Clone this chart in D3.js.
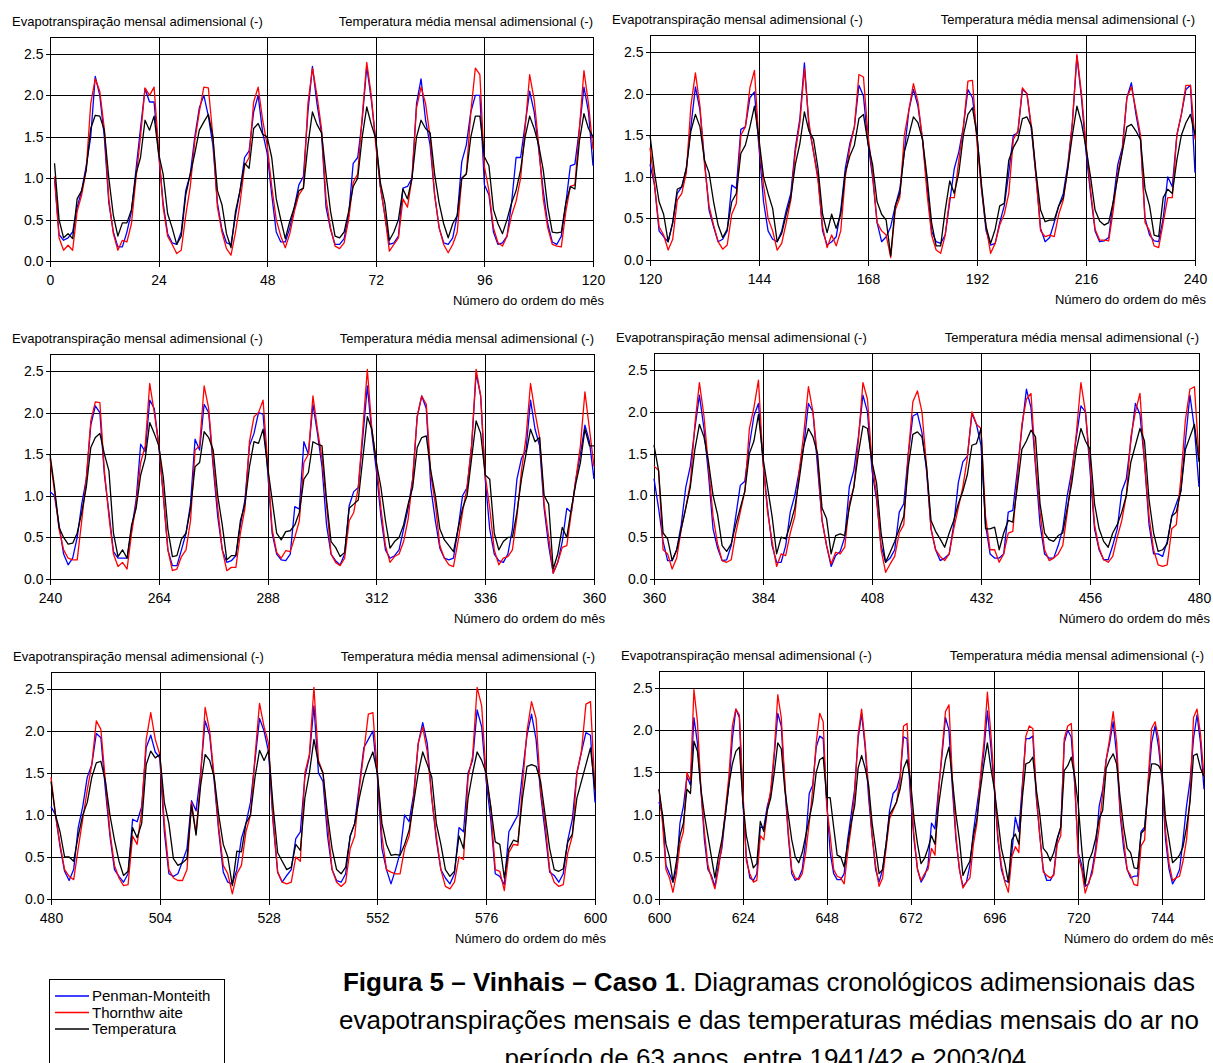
<!DOCTYPE html>
<meta charset="UTF-8">
<style>
    body { margin: 0; background: #fff; }
    svg { display: block; font-family: "Liberation Sans", Arial, sans-serif; }
    .grid line { stroke: #000; stroke-width: 1px; shape-rendering: crispEdges; }
    .frame { fill: none; stroke: #000; stroke-width: 1px; shape-rendering: crispEdges; }
    .axis path { display: none; }
    .axis line { stroke: #000; shape-rendering: crispEdges; }
    .axis text { font-size: 14px; fill: #000; }
    .series { fill: none; stroke-width: 1.3px; stroke-linejoin: round; }
    .ptitle, .xname { font-size: 13px; fill: #000; }
    .legend text { font-size: 15px; fill: #000; }
    .caption { font-size: 26px; fill: #000; }
</style>
<body>
<div id="chart"></div>
<script src="https://d3js.org/d3.v7.min.js"></script>
<script>
    // adimensional monthly values, month 1..756 (one row = one hydrological year, Oct..Sep)
    var penmanMonteith = [
        1.0,0.32,0.25,0.28,0.35,0.65,0.85,1.15,1.5,2.23,2.0,1.5,
        0.7,0.35,0.17,0.17,0.35,0.6,1.1,1.6,2.08,1.92,1.92,1.3,
        0.7,0.33,0.22,0.2,0.35,0.85,1.05,1.5,1.85,2.0,1.75,1.4,
        0.7,0.38,0.22,0.2,0.55,0.85,1.25,1.33,1.8,2.0,1.55,1.3,
        0.8,0.35,0.23,0.23,0.4,0.65,0.92,1.02,1.8,2.35,1.9,1.55,
        0.65,0.38,0.2,0.2,0.27,0.55,1.18,1.25,1.7,2.35,1.95,1.45,
        0.9,0.55,0.2,0.22,0.3,0.88,0.9,1.0,1.9,2.2,1.7,1.4,
        0.8,0.4,0.22,0.2,0.28,0.55,1.2,1.4,1.8,2.0,2.0,0.92,
        0.8,0.35,0.2,0.22,0.3,0.7,1.25,1.25,1.65,2.05,1.8,1.35,
        0.85,0.45,0.23,0.2,0.3,0.7,1.15,1.17,1.6,2.1,1.8,1.15,
        0.9,0.35,0.28,0.22,0.45,0.8,0.88,1.1,1.6,2.08,1.8,1.2,
        0.6,0.4,0.22,0.25,0.35,0.9,0.86,1.57,1.6,1.95,2.02,1.35,
        0.7,0.35,0.25,0.22,0.35,0.6,0.8,1.35,1.7,2.37,1.6,1.3,
        1.0,0.35,0.18,0.22,0.28,0.6,1.1,1.4,1.6,2.1,1.97,1.4,
        1.0,0.45,0.22,0.28,0.4,0.65,0.85,1.3,1.8,2.05,1.85,1.45,
        0.9,0.35,0.22,0.2,0.3,0.7,1.1,1.3,1.6,2.05,1.95,1.5,
        0.85,0.35,0.18,0.2,0.45,0.65,1.05,1.5,1.53,2.05,2.0,1.55,
        1.0,0.38,0.22,0.27,0.45,0.65,0.8,1.15,1.65,2.45,1.95,1.3,
        0.8,0.35,0.22,0.23,0.27,0.7,1.15,1.35,1.95,2.13,1.75,1.45,
        0.5,0.3,0.23,0.22,0.5,1.0,0.88,1.5,1.75,2.05,2.1,1.05,
        1.0,0.65,0.3,0.17,0.25,0.5,0.9,1.2,1.85,2.08,2.0,1.25,
        0.8,0.33,0.25,0.25,0.25,0.6,0.95,1.62,1.53,2.15,2.05,1.6,
        1.0,0.35,0.16,0.16,0.35,0.55,0.9,1.68,1.55,2.1,2.0,1.35,
        0.75,0.35,0.2,0.22,0.28,0.65,0.95,1.6,1.75,2.0,1.98,1.3,
        0.55,0.3,0.23,0.22,0.3,0.87,0.84,1.65,1.5,2.1,1.75,1.35,
        0.65,0.3,0.22,0.17,0.3,0.88,1.05,1.1,1.7,2.32,1.75,1.3,
        0.75,0.35,0.25,0.28,0.35,0.6,0.85,1.2,1.95,2.2,2.05,1.1,
        0.7,0.37,0.25,0.23,0.25,0.6,1.0,1.1,1.6,2.47,2.2,1.2,
        0.6,0.3,0.22,0.2,0.3,0.6,1.2,1.45,1.55,2.15,1.8,1.6,
        0.85,0.4,0.07,0.2,0.45,0.85,0.8,1.2,1.5,1.85,1.65,1.2,
        0.85,0.45,0.22,0.22,0.35,0.65,1.1,1.35,1.8,2.2,1.8,1.25,
        0.6,0.37,0.22,0.23,0.4,0.75,1.12,1.17,1.6,1.95,2.1,1.4,
        0.85,0.4,0.2,0.2,0.4,0.8,1.0,1.3,1.6,2.1,2.0,1.35,
        0.7,0.4,0.15,0.28,0.33,0.5,1.1,1.3,1.7,2.2,2.0,1.3,
        0.95,0.4,0.2,0.25,0.35,0.8,0.9,1.5,1.95,1.98,1.75,1.3,
        0.6,0.35,0.22,0.25,0.3,0.65,1.15,1.4,1.47,1.98,1.85,1.6,
        0.65,0.3,0.25,0.25,0.3,0.8,0.82,1.3,1.8,2.27,2.05,1.35,
        0.65,0.3,0.25,0.25,0.4,0.6,1.0,1.3,1.7,2.07,2.0,1.3,
        0.6,0.35,0.23,0.23,0.4,0.6,1.05,1.2,1.65,2.1,1.97,1.4,
        0.65,0.3,0.3,0.27,0.45,0.75,0.9,1.05,1.65,2.2,1.8,1.1,
        1.0,0.62,0.33,0.22,0.35,0.85,1.1,1.45,1.6,1.97,1.92,1.3,
        0.75,0.35,0.27,0.2,0.3,0.95,0.92,1.1,1.8,1.95,1.75,1.68,
        0.8,0.3,0.27,0.3,0.45,0.6,1.17,1.05,1.5,2.12,1.95,1.4,
        0.8,0.32,0.2,0.18,0.35,0.72,0.9,1.15,1.65,2.15,2.0,1.75,
        0.9,0.32,0.2,0.28,0.35,0.72,0.8,1.45,1.7,2.3,1.5,1.4,
        0.75,0.35,0.22,0.2,0.3,0.75,0.9,1.35,1.8,1.9,2.0,1.45,
        0.6,0.35,0.18,0.35,0.55,1.0,0.92,1.25,1.85,2.1,1.85,1.2,
        0.7,0.35,0.25,0.18,0.3,0.85,0.8,1.5,1.65,2.25,2.05,1.4,
        0.95,0.3,0.27,0.17,0.8,0.9,1.0,1.5,1.95,2.2,1.9,1.25,
        0.8,0.32,0.28,0.2,0.3,0.7,0.95,1.5,1.75,1.98,1.95,1.15,
        1.0,0.4,0.3,0.2,0.35,0.9,1.1,1.45,1.35,2.15,1.85,1.3,
        0.7,0.35,0.28,0.15,0.4,0.6,1.0,1.35,1.9,2.25,2.15,1.15,
        0.5,0.25,0.22,0.3,0.85,0.85,1.1,1.25,1.7,2.2,2.05,1.35,
        0.75,0.3,0.22,0.25,0.35,0.7,1.25,1.35,1.8,1.93,1.9,1.15,
        0.55,0.3,0.23,0.23,0.3,0.7,1.0,1.3,1.9,2.2,1.8,1.2,
        0.75,0.35,0.2,0.35,0.65,1.05,1.25,1.3,1.45,1.92,1.9,1.2,
        0.7,0.35,0.2,0.27,0.4,0.9,0.83,1.3,1.7,2.15,2.0,1.3,
        0.7,0.35,0.15,0.2,0.4,0.8,1.1,1.4,1.75,2.23,1.8,1.3,
        0.7,0.35,0.22,0.2,0.55,0.97,0.8,1.35,1.9,1.9,1.93,1.2,
        0.75,0.35,0.22,0.22,0.3,0.7,0.85,1.85,2.0,1.92,1.35,0.55,
        0.4,0.15,0.18,0.35,0.6,1.1,1.3,1.65,1.85,2.1,1.7,1.0,
        0.6,0.35,0.25,0.27,0.27,0.8,0.85,1.35,1.85,2.05,1.8,1.4,
        0.7,0.35,0.18,0.25,0.35,0.7,1.1,1.4,1.9,2.18,1.85,1.3
    ];

    var thornthwaite = [
        1.02,0.28,0.13,0.19,0.13,0.6,0.8,1.1,1.9,2.2,2.05,1.6,
        0.75,0.33,0.13,0.25,0.23,0.45,1.0,1.5,2.09,2.0,2.1,1.35,
        0.65,0.3,0.2,0.09,0.13,0.55,0.9,1.45,1.8,2.1,2.09,1.5,
        0.65,0.35,0.15,0.07,0.35,0.7,1.15,1.25,1.92,2.1,1.7,1.4,
        0.9,0.5,0.3,0.16,0.33,0.6,0.8,0.88,1.9,2.33,2.0,1.6,
        0.75,0.4,0.18,0.15,0.22,0.5,0.95,1.05,1.75,2.4,2.0,1.4,
        0.9,0.55,0.12,0.2,0.28,0.75,0.65,1.0,1.85,2.1,1.9,1.5,
        0.8,0.4,0.2,0.1,0.2,0.35,1.0,1.05,1.8,2.33,2.25,1.14,
        0.85,0.4,0.22,0.18,0.3,0.55,0.72,1.0,1.6,2.25,1.95,1.4,
        0.75,0.4,0.2,0.18,0.17,0.6,0.9,0.92,1.6,2.3,1.9,1.35,
        0.9,0.4,0.3,0.12,0.25,0.72,0.8,1.05,1.85,2.25,1.85,1.15,
        0.65,0.42,0.22,0.13,0.18,0.55,0.68,1.5,1.6,2.07,2.28,1.4,
        0.9,0.5,0.35,0.12,0.2,0.45,0.72,1.3,1.65,2.3,1.65,1.3,
        0.95,0.4,0.15,0.3,0.17,0.35,1.0,1.35,1.6,2.23,2.2,1.5,
        1.05,0.45,0.35,0.3,0.03,0.6,0.75,1.5,1.8,2.12,1.9,1.45,
        0.8,0.3,0.12,0.08,0.3,0.75,0.75,1.2,1.6,2.15,2.16,1.4,
        0.85,0.4,0.08,0.2,0.42,0.55,0.8,1.45,1.55,2.07,2.0,1.6,
        1.0,0.35,0.28,0.3,0.28,0.55,0.72,1.1,1.65,2.47,2.0,1.4,
        0.85,0.37,0.24,0.24,0.23,0.6,1.05,1.32,1.95,2.08,1.8,1.5,
        0.45,0.35,0.17,0.15,0.45,0.75,0.75,1.5,1.75,2.1,2.1,1.45,
        1.05,0.6,0.35,0.25,0.23,0.23,0.7,1.2,1.9,2.13,2.12,1.3,
        0.75,0.3,0.15,0.2,0.12,0.55,0.9,1.4,1.6,2.35,2.0,1.62,
        1.0,0.35,0.1,0.12,0.27,0.35,0.7,1.55,1.6,2.32,2.05,1.4,
        0.85,0.35,0.1,0.14,0.14,0.55,0.85,1.65,1.95,2.0,2.15,1.4,
        0.6,0.32,0.25,0.34,0.33,0.5,0.7,1.4,1.5,2.2,1.8,1.45,
        0.9,0.3,0.2,0.16,0.25,0.7,0.8,1.1,1.8,2.52,1.8,1.4,
        0.85,0.4,0.2,0.27,0.3,0.45,0.72,1.2,1.95,2.2,2.1,1.25,
        0.9,0.4,0.25,0.17,0.15,0.45,0.8,1.1,1.6,2.52,2.2,1.25,
        0.85,0.35,0.17,0.25,0.27,0.35,0.75,1.3,1.7,2.35,2.0,1.7,
        0.9,0.5,0.07,0.2,0.38,0.4,0.8,1.2,1.6,2.25,1.8,1.35,
        1.3,0.35,0.3,0.12,0.25,0.6,0.85,1.15,1.85,2.35,1.95,1.35,
        0.75,0.42,0.22,0.2,0.23,0.55,0.8,1.05,1.8,2.05,2.38,1.4,
        0.8,0.45,0.15,0.3,0.28,0.55,0.75,1.3,1.75,2.3,2.0,1.45,
        0.7,0.4,0.18,0.32,0.3,0.38,0.9,1.1,1.65,2.35,2.15,1.4,
        1.0,0.35,0.08,0.18,0.27,0.55,0.65,1.5,2.12,2.25,2.0,1.35,
        0.6,0.35,0.27,0.22,0.3,0.6,0.85,1.1,1.45,2.0,1.85,1.8,
        0.75,0.35,0.35,0.2,0.3,0.55,0.57,1.2,1.85,2.15,2.22,1.4,
        0.8,0.35,0.22,0.25,0.3,0.4,0.8,1.25,1.75,2.35,2.0,1.4,
        0.65,0.37,0.23,0.2,0.27,0.5,0.7,1.0,1.7,2.0,2.22,1.4,
        0.75,0.35,0.17,0.15,0.17,0.6,0.65,1.2,1.9,2.27,2.3,1.45,
        1.0,0.65,0.35,0.27,0.23,0.6,0.95,1.3,1.6,2.12,2.02,1.4,
        0.8,0.4,0.25,0.16,0.17,0.75,0.65,1.05,1.9,2.22,1.9,1.72,
        0.9,0.35,0.25,0.22,0.22,0.35,1.15,0.78,1.45,2.28,2.0,1.45,
        0.85,0.4,0.3,0.06,0.3,0.4,0.8,1.0,1.7,2.33,2.05,1.85,
        0.95,0.32,0.2,0.18,0.2,0.5,0.45,1.5,1.72,2.52,1.65,1.5,
        0.9,0.35,0.2,0.15,0.2,0.6,0.75,1.3,1.75,2.2,2.22,1.5,
        0.75,0.35,0.32,0.3,0.3,0.6,0.75,1.2,1.85,2.05,1.75,1.2,
        0.75,0.35,0.15,0.12,0.2,0.5,0.47,1.45,1.7,2.52,2.3,1.45,
        1.1,0.35,0.33,0.1,0.55,0.65,0.64,1.35,2.0,2.35,2.15,1.3,
        0.9,0.35,0.2,0.15,0.17,0.55,0.75,1.5,1.75,2.32,2.35,1.3,
        0.9,0.35,0.25,0.08,0.3,0.65,0.8,1.5,1.4,2.48,2.1,1.3,
        0.8,0.4,0.25,0.12,0.35,0.65,1.05,1.45,2.05,2.25,2.18,1.3,
        0.45,0.3,0.2,0.22,0.75,0.7,1.05,1.3,1.75,2.42,2.15,1.4,
        0.8,0.35,0.25,0.23,0.3,0.55,0.9,1.3,1.85,2.2,2.1,1.1,
        0.75,0.35,0.27,0.25,0.18,0.55,0.85,1.25,1.95,2.25,1.85,1.3,
        0.75,0.4,0.15,0.25,0.6,0.95,1.05,1.15,1.4,2.05,2.08,1.3,
        0.75,0.35,0.22,0.3,0.35,0.6,0.52,1.25,1.75,2.22,2.3,1.4,
        0.75,0.35,0.13,0.2,0.25,0.65,0.9,1.45,1.85,2.45,1.95,1.35,
        0.75,0.4,0.2,0.08,0.5,0.62,0.55,1.3,1.93,2.05,2.02,1.25,
        0.75,0.32,0.28,0.25,0.28,0.65,0.75,1.9,2.05,2.08,1.4,0.5,
        0.35,0.07,0.2,0.3,0.55,0.85,1.25,1.65,1.9,2.22,1.85,1.05,
        0.7,0.35,0.28,0.17,0.16,0.63,0.7,1.4,2.02,2.1,1.9,1.45,
        0.8,0.42,0.22,0.25,0.27,0.45,0.7,1.2,2.15,2.25,1.95,1.45
    ];

    var temperatura = [
        1.18,0.5,0.28,0.33,0.27,0.75,0.85,1.1,1.6,1.76,1.75,1.58,
        1.0,0.55,0.3,0.46,0.46,0.62,1.05,1.25,1.7,1.58,1.75,1.3,
        1.05,0.57,0.4,0.2,0.3,0.8,1.05,1.3,1.58,1.68,1.77,1.5,
        0.85,0.68,0.33,0.16,0.6,0.85,1.18,1.12,1.6,1.66,1.53,1.5,
        1.25,0.75,0.5,0.27,0.48,0.65,0.85,0.88,1.4,1.8,1.65,1.55,
        1.05,0.6,0.3,0.28,0.35,0.6,0.9,1.0,1.5,1.86,1.65,1.48,
        0.95,0.7,0.25,0.35,0.5,0.87,0.75,1.0,1.5,1.7,1.6,1.55,
        1.05,0.7,0.45,0.28,0.45,0.55,1.0,1.05,1.5,1.75,1.75,1.26,
        1.15,0.62,0.45,0.33,0.5,0.7,0.85,1.1,1.5,1.75,1.6,1.4,
        1.1,0.65,0.35,0.34,0.35,0.7,0.9,0.87,1.45,1.78,1.6,1.5,
        1.05,0.7,0.55,0.22,0.45,0.85,0.88,1.1,1.55,1.75,1.6,1.2,
        1.05,0.7,0.42,0.27,0.37,0.7,0.8,1.28,1.38,1.6,1.85,1.45,
        1.0,0.8,0.62,0.22,0.32,0.55,0.75,1.15,1.4,1.78,1.55,1.45,
        1.1,0.55,0.33,0.55,0.38,0.55,1.05,1.25,1.38,1.7,1.75,1.4,
        1.15,0.7,0.55,0.48,0.05,0.65,0.8,1.3,1.5,1.72,1.65,1.45,
        1.0,0.45,0.17,0.17,0.6,0.95,0.8,1.05,1.5,1.75,1.83,1.5,
        0.9,0.4,0.2,0.37,0.65,0.68,1.2,1.35,1.45,1.7,1.72,1.6,
        1.05,0.6,0.46,0.48,0.48,0.65,0.75,1.1,1.5,1.85,1.65,1.35,
        1.0,0.6,0.47,0.42,0.45,0.7,1.0,1.3,1.6,1.63,1.55,1.45,
        0.85,0.65,0.3,0.28,0.75,0.85,0.8,1.2,1.5,1.65,1.75,1.5,
        1.1,0.62,0.5,0.42,0.43,0.55,0.8,1.1,1.58,1.7,1.75,1.5,
        1.3,0.55,0.27,0.35,0.25,0.65,0.85,1.25,1.45,1.88,1.75,1.6,
        1.22,0.6,0.27,0.28,0.48,0.55,0.85,1.35,1.4,1.77,1.7,1.55,
        1.0,0.65,0.23,0.28,0.28,0.7,0.9,1.35,1.65,1.63,1.8,1.35,
        0.95,0.55,0.47,0.57,0.58,0.65,0.8,1.2,1.28,1.65,1.62,1.6,
        0.95,0.45,0.38,0.27,0.32,0.85,0.9,0.95,1.45,1.95,1.8,1.4,
        1.1,0.7,0.37,0.45,0.5,0.65,0.9,1.1,1.58,1.7,1.72,1.3,
        1.0,0.6,0.47,0.4,0.33,0.6,0.85,1.0,1.45,1.9,1.75,1.25,
        1.2,0.55,0.35,0.45,0.5,0.5,0.8,1.2,1.5,1.8,1.65,1.7,
        1.0,0.9,0.12,0.3,0.62,0.5,0.85,1.15,1.4,1.8,1.6,1.6,
        1.3,0.55,0.48,0.22,0.35,0.6,0.85,1.1,1.55,1.85,1.7,1.4,
        1.0,0.77,0.4,0.33,0.42,0.65,0.85,1.05,1.5,1.65,1.97,1.45,
        1.1,0.75,0.3,0.5,0.48,0.65,0.85,1.2,1.6,1.8,1.7,1.5,
        0.85,0.72,0.3,0.52,0.54,0.52,0.85,1.1,1.5,1.83,1.8,1.4,
        1.15,0.55,0.2,0.32,0.45,0.6,0.75,1.35,1.73,1.76,1.7,1.35,
        0.7,0.57,0.48,0.38,0.55,0.7,0.9,1.05,1.25,1.6,1.62,1.8,
        0.6,0.6,0.62,0.35,0.55,0.7,0.68,1.1,1.55,1.65,1.78,1.7,
        0.9,0.55,0.47,0.45,0.52,0.55,0.85,1.15,1.55,1.8,1.65,1.55,
        0.9,0.6,0.45,0.38,0.55,0.65,0.8,1.0,1.4,1.6,1.8,1.65,
        0.95,0.55,0.33,0.35,0.42,0.75,0.8,1.05,1.55,1.7,1.85,1.4,
        1.0,0.8,0.5,0.5,0.45,0.75,1.0,1.15,1.45,1.62,1.64,1.4,
        1.0,0.7,0.45,0.28,0.33,0.85,0.73,0.9,1.6,1.76,1.68,1.72,
        1.15,0.9,0.48,0.4,0.43,0.48,1.12,0.76,1.35,1.72,1.65,1.45,
        1.0,0.65,0.5,0.16,0.57,0.56,0.9,1.0,1.45,1.77,1.65,1.77,
        1.1,0.55,0.45,0.35,0.38,0.65,0.58,1.2,1.5,1.9,1.62,1.5,
        1.0,0.6,0.35,0.3,0.38,0.75,0.9,1.2,1.45,1.62,1.75,1.5,
        0.9,0.65,0.52,0.53,0.52,0.65,0.82,1.15,1.5,1.75,1.6,1.45,
        0.9,0.65,0.35,0.27,0.33,0.75,0.6,1.2,1.5,1.75,1.65,1.5,
        1.1,0.68,0.65,0.25,0.6,0.7,0.68,1.2,1.58,1.6,1.58,1.4,
        1.0,0.6,0.35,0.33,0.36,0.68,0.77,1.2,1.4,1.6,1.8,1.3,
        1.0,0.65,0.5,0.2,0.45,0.75,0.9,1.3,1.25,1.87,1.75,1.3,
        1.0,0.75,0.5,0.25,0.5,0.7,1.0,1.35,1.6,1.75,1.8,1.15,
        0.75,0.55,0.37,0.42,0.92,0.8,1.05,1.2,1.5,1.85,1.78,1.3,
        1.0,0.7,0.5,0.43,0.55,0.75,0.95,1.15,1.5,1.65,1.68,1.2,
        1.2,0.85,0.52,0.5,0.38,0.65,0.9,1.1,1.55,1.7,1.55,1.35,
        0.9,0.6,0.3,0.35,0.65,1.0,1.07,1.15,1.3,1.55,1.65,1.4,
        0.95,0.65,0.42,0.48,0.6,0.75,0.65,1.1,1.4,1.65,1.8,1.4,
        1.0,0.7,0.28,0.37,0.45,0.75,0.95,1.3,1.6,1.85,1.55,1.3,
        0.95,0.6,0.42,0.2,0.7,0.77,0.65,1.2,1.6,1.62,1.68,1.3,
        1.0,0.6,0.55,0.45,0.55,0.72,0.85,1.52,1.58,1.68,1.45,1.12,
        0.6,0.17,0.45,0.55,0.72,0.95,1.05,1.55,1.65,1.72,1.6,1.2,
        0.85,0.6,0.55,0.37,0.36,0.78,0.82,1.3,1.6,1.6,1.58,1.5,
        0.95,0.7,0.43,0.47,0.52,0.62,0.85,1.15,1.7,1.72,1.55,1.45
    ];

    var seriesNames = ["Penman-Monteith", "Thornthw aite", "Temperatura"];
    var seriesColors = ["#0000ff", "#ff0000", "#000000"];
    var panelStarts = [0, 120, 240, 360, 480, 600];
    var panelEnds = [120, 240, 360, 480, 600, 756];
    var yTicks = [0, 0.5, 1.0, 1.5, 2.0, 2.5];
    var leftTitle = "Evapotranspiração mensal adimensional (-)";
    var rightTitle = "Temperatura média mensal adimensional (-)";
    var xName = "Número do ordem do mês";
    var captionBold = "Figura 5 – Vinhais – Caso 1";
    var captionLines = [
        ". Diagramas cronológicos adimensionais das",
        "evapotranspirações mensais e das temperaturas médias mensais do ar no",
        "período de 63 anos, entre 1941/42 e 2003/04."
    ];

    // plot boxes, in page pixels: left, right, y of 0.0, y of 2.5
    var boxes = [
        {x0: 50, x1: 593, y0: 261, y25: 54},
        {x0: 650, x1: 1195, y0: 260, y25: 52},
        {x0: 50, x1: 594, y0: 579, y25: 371},
        {x0: 654, x1: 1199, y0: 579, y25: 370},
        {x0: 51, x1: 595, y0: 899, y25: 689},
        {x0: 659, x1: 1204, y0: 899, y25: 688}
    ];

    var width = 1213, height = 1063;
    var svg = d3.select("#chart").append("svg")
            .attr("width", width)
            .attr("height", height);
    svg.append("rect").attr("width", width).attr("height", height).attr("fill", "#fff");

    var allSeries = [penmanMonteith, thornthwaite, temperatura];

    panelStarts.forEach(function (start, p) {
        var end = panelEnds[p], b = boxes[p];
        var yMax = 2.7;
        var yTop = b.y0 - yMax * (b.y0 - b.y25) / 2.5;

        var x = d3.scaleLinear().domain([start, end]).range([b.x0, b.x1]);
        var y = d3.scaleLinear().domain([0, yMax]).range([b.y0, yTop]);
        var xTicks = d3.range(start, end + 1, 24);

        var g = svg.append("g");

        // grid
        var grid = g.append("g").attr("class", "grid");
        grid.selectAll("line.h").data(yTicks.slice(1)).enter().append("line")
                .attr("x1", b.x0).attr("x2", b.x1)
                .attr("y1", function (d) { return Math.round(y(d)) + 0.5; })
                .attr("y2", function (d) { return Math.round(y(d)) + 0.5; });
        grid.selectAll("line.v").data(xTicks.filter(function (d) { return d > start && d < end; }))
                .enter().append("line")
                .attr("x1", function (d) { return Math.round(x(d)) + 0.5; })
                .attr("x2", function (d) { return Math.round(x(d)) + 0.5; })
                .attr("y1", yTop).attr("y2", b.y0);

        // axes
        g.append("g").attr("class", "axis")
                .attr("transform", "translate(0," + (Math.round(b.y0) + 0.5) + ")")
                .call(d3.axisBottom(x).tickValues(xTicks).tickSize(5).tickPadding(9)
                        .tickFormat(d3.format("d")));
        g.append("g").attr("class", "axis")
                .attr("transform", "translate(" + (Math.round(b.x0) + 0.5) + ",0)")
                .call(d3.axisLeft(y).tickValues(yTicks).tickSize(5).tickPadding(2)
                        .tickFormat(d3.format(".1f")));

        g.append("rect").attr("class", "frame")
                .attr("x", Math.round(b.x0) + 0.5).attr("y", Math.round(yTop) + 0.5)
                .attr("width", Math.round(b.x1) - Math.round(b.x0))
                .attr("height", Math.round(b.y0) - Math.round(yTop));

        // series
        var line = d3.line()
                .x(function (d) { return x(d[0]); })
                .y(function (d) { return y(d[1]); });
        allSeries.forEach(function (vals, s) {
            var pts = [];
            vals.forEach(function (v, i) {
                var m = i + 1;
                if (m >= start && m <= end) pts.push([m, v]);
            });
            g.append("path").attr("class", "series")
                    .attr("stroke", seriesColors[s])
                    .attr("d", line(pts));
        });

        // titles
        g.append("text").attr("class", "ptitle")
                .attr("x", b.x0 - 38).attr("y", yTop - 11)
                .text(leftTitle);
        g.append("text").attr("class", "ptitle")
                .attr("x", b.x1).attr("y", yTop - 11)
                .attr("text-anchor", "end")
                .text(rightTitle);
        g.append("text").attr("class", "xname")
                .attr("x", b.x1 + 11).attr("y", b.y0 + 44)
                .attr("text-anchor", "end")
                .text(xName);
    });

    // legend
    var legend = svg.append("g").attr("class", "legend");
    legend.append("rect")
            .attr("x", 49.5).attr("y", 979.5).attr("width", 175).attr("height", 100)
            .attr("fill", "#fff").attr("stroke", "#000").attr("shape-rendering", "crispEdges");
    seriesNames.forEach(function (name, i) {
        var ly = 996 + i * 16.5;
        legend.append("line")
                .attr("x1", 55).attr("x2", 89).attr("y1", ly).attr("y2", ly)
                .attr("stroke", seriesColors[i]).attr("stroke-width", 1.3);
        legend.append("text")
                .attr("x", 92).attr("y", ly).attr("dy", "0.35em")
                .text(name);
    });

    // caption
    var cap = svg.append("text").attr("class", "caption")
            .attr("x", 769).attr("y", 991).attr("text-anchor", "middle");
    cap.append("tspan").attr("font-weight", "bold").text(captionBold);
    cap.append("tspan").text(captionLines[0]);
    svg.append("text").attr("class", "caption")
            .attr("x", 769).attr("y", 1029).attr("text-anchor", "middle")
            .text(captionLines[1]);
    svg.append("text").attr("class", "caption")
            .attr("x", 769).attr("y", 1067).attr("text-anchor", "middle")
            .text(captionLines[2]);
</script>
</body>
